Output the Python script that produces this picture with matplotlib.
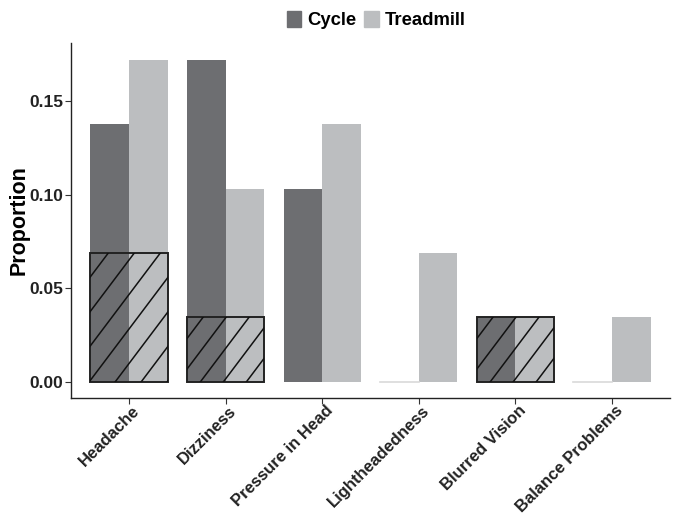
import numpy as np
import matplotlib
matplotlib.use('Agg')
from matplotlib import pyplot as plt, patches, transforms
from matplotlib.lines import Line2D

categories = ['Headache', 'Dizziness', 'Pressure in Head', 'Lightheadedness',
              'Blurred Vision', 'Balance Problems']
cycle = [0.138, 0.172, 0.103, 0.0, 0.0345, 0.0]
treadmill = [0.172, 0.103, 0.138, 0.069, 0.0345, 0.0345]
# proportion reported on both (hatched box over the pair)
both = [0.069, 0.0345, 0.0, 0.0, 0.0345, 0.0]
series_names = ['Cycle', 'Treadmill']

c_dark = '#6d6e71'
c_light = '#bcbec0'

plt.rcParams['font.family'] = ['Liberation Sans', 'DejaVu Sans']

fig = plt.figure(figsize=(6.74, 5.14), dpi=100)
ax = fig.add_axes([71/674, 116/514, 599/674, 355/514])

x = np.arange(len(categories))
w = 0.4
for i in range(len(categories)):
    for val, off, col in [(cycle[i], -w/2, c_dark), (treadmill[i], w/2, c_light)]:
        if val > 0:
            ax.bar(x[i] + off, val, w, color=col, linewidth=0)
        else:
            ax.plot([x[i] + off - w/2, x[i] + off + w/2], [0, 0], color='#d9d9d9', lw=1.2)

ax.set_xlim(-0.6, len(categories) - 0.4)
ax.set_ylim(-0.0086, 0.181)

hatch_boxes = []
for i in range(len(categories)):
    if both[i] > 0:
        r = patches.Rectangle((x[i] - w, 0), 2*w, both[i], facecolor='none',
                              edgecolor='#222222', linewidth=1.4, zorder=4)
        ax.add_patch(r)
        hatch_boxes.append(r)

# hatch stripes drawn in pixel space, clipped to each box
fig.canvas.draw()
ang = np.deg2rad(53)
for r in hatch_boxes:
    bb = r.get_window_extent()
    hsp = 26 if bb.height > 100 else 23
    dx = bb.height / np.tan(ang)
    start = bb.x0 - dx - hsp * 0.3
    while start < bb.x1:
        ln = Line2D([start, start + dx], [bb.y0, bb.y1], color='#111111', lw=1.1,
                    transform=None, zorder=3)
        ln.set_clip_path(r)
        fig.add_artist(ln)
        start += hsp

ax.set_yticks([0, 0.05, 0.10, 0.15])
ax.set_yticklabels(['0.00', '0.05', '0.10', '0.15'])
ax.set_xticks(x)
ax.set_xticklabels([])
# category labels, rotated like ggplot's angle=45, hjust=1, vjust=1
shift = transforms.ScaledTranslation(3/100, -5/100, fig.dpi_scale_trans)
for xi, lab in zip(x, categories):
    ax.text(xi, 0, lab, transform=ax.get_xaxis_transform() + shift,
            rotation=45, ha='right', va='top', rotation_mode='anchor',
            fontsize=12.0, fontweight='bold', color='#222222')
for lab in ax.get_yticklabels():
    lab.set_fontweight('bold')
    lab.set_fontsize(12.5)
    lab.set_color('#222222')
ax.tick_params(axis='both', length=4, color='#333333', width=0.8)
ax.tick_params(axis='y', pad=1.5)
ax.set_ylabel('Proportion', fontsize=15.5, fontweight='bold')
ax.yaxis.set_label_coords(-0.069, 0.5)

for s in ['top', 'right']:
    ax.spines[s].set_visible(False)
for s in ['left', 'bottom']:
    ax.spines[s].set_linewidth(1.0)
    ax.spines[s].set_color('#222222')

handles = [patches.Patch(color=c_dark), patches.Patch(color=c_light)]
leg = fig.legend(handles, series_names, loc='center', bbox_to_anchor=(376/674, 1 - 20/514),
                 ncol=2, frameon=False, handlelength=0.8, handleheight=1.0,
                 handletextpad=0.3, columnspacing=0.45,
                 prop={'weight': 'bold', 'size': 13.3})

fig.savefig('out.png', dpi=100)
